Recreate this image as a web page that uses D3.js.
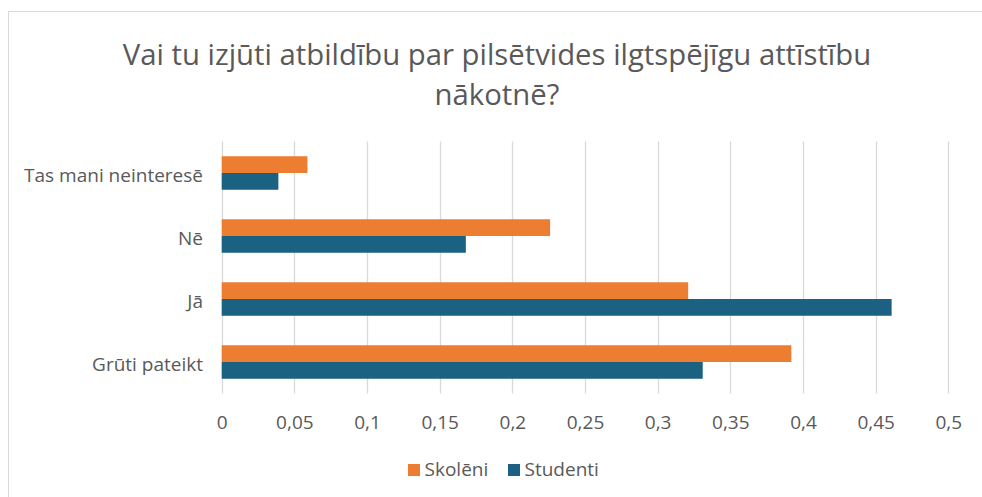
<!DOCTYPE html>
<html><head><meta charset="utf-8">
<script src="https://cdn.jsdelivr.net/npm/d3@7"></script>
<style>body{margin:0;background:#fff;} text{font-family:"Open Sans",sans-serif;}</style>
</head><body>
<svg id="c" width="982" height="497"></svg>
<script>
const categories = ["Grūti pateikt", "Jā", "Nē", "Tas mani neinteresē"];
const seriesNames = ["Skolēni", "Studenti"];
const skoleni = [0.392, 0.321, 0.226, 0.059];
const studenti = [0.331, 0.461, 0.168, 0.039];
const xTicks = [0, 0.05, 0.1, 0.15, 0.2, 0.25, 0.3, 0.35, 0.4, 0.45, 0.5];
const tickLabels = ["0", "0,05", "0,1", "0,15", "0,2", "0,25", "0,3", "0,35", "0,4", "0,45", "0,5"];
const titleLines = ["Vai tu izjūti atbildību par pilsētvides ilgtspējīgu attīstību", "nākotnē?"];

const colors = ["#ED7D31", "#1A6182"];
const textColor = "#595959";
const FONT = "'Open Sans',sans-serif";
const LABEL_SIZE = 19;
const svg = d3.select("#c");

svg.append("rect").attr("x", 8.5).attr("y", 11.5).attr("width", 990).attr("height", 500)
  .attr("fill", "#fff").attr("stroke", "#d9d9d9").attr("stroke-width", 1);

const x = d3.scaleLinear().domain([0, 0.5]).range([221.7, 948.3]);
const y = d3.scaleBand().domain(categories.slice().reverse()).range([141.5, 393.5])
  .paddingInner(0.468).paddingOuter(0.234);
const ySub = d3.scaleBand().domain(seriesNames).range([0, y.bandwidth()]);

// title
svg.append("g").selectAll("text").data(titleLines).join("text")
  .attr("x", 497).attr("y", (d, i) => 65 + i * 40)
  .attr("text-anchor", "middle").attr("font-size", 29.3).attr("fill", textColor)
  .text(d => d);

// grid
svg.append("g").selectAll("line").data(xTicks).join("line")
  .attr("x1", d => Math.round(x(d)) + 0.5).attr("x2", d => Math.round(x(d)) + 0.5)
  .attr("y1", 141.5).attr("y2", 393.5)
  .attr("stroke", "#d9d9d9").attr("stroke-width", 1.3);

// x axis labels
const xAxis = d3.axisBottom(x).tickValues(xTicks).tickSize(0).tickPadding(0)
  .tickFormat((d, i) => tickLabels[i]);
const gx = svg.append("g").attr("transform", "translate(0,415)").call(xAxis);
gx.select(".domain").remove();
gx.selectAll("text").attr("font-size", LABEL_SIZE).attr("fill", textColor).attr("font-family", FONT);

// y axis labels
const yAxis = d3.axisLeft(y).tickSize(0).tickPadding(0);
const gy = svg.append("g").attr("transform", "translate(203,0)").call(yAxis);
gy.select(".domain").remove();
gy.selectAll("text").attr("font-size", LABEL_SIZE).attr("fill", textColor).attr("font-family", FONT)
  .attr("dy", "0.45em");

// bars
const data = categories.map((c, i) => ({c, vals: [skoleni[i], studenti[i]]}));
const groups = svg.append("g").selectAll("g").data(data).join("g")
  .attr("transform", d => `translate(0,${y(d.c)})`);
groups.selectAll("rect").data(d => d.vals.map((v, j) => ({v, s: seriesNames[j], j})))
  .join("rect")
  .attr("x", x(0)).attr("y", d => ySub(d.s))
  .attr("width", d => x(d.v) - x(0)).attr("height", ySub.bandwidth())
  .attr("fill", d => colors[d.j]);

// legend
const legendX = [408, 508];
const lg = svg.append("g").selectAll("g").data(seriesNames).join("g")
  .attr("transform", (d, i) => `translate(${legendX[i]},464)`);
lg.append("rect").attr("width", 12).attr("height", 12).attr("fill", (d, i) => colors[i]);
lg.append("text").attr("x", 16.5).attr("y", 12).attr("font-size", LABEL_SIZE).attr("fill", textColor).text(d => d);
</script>
</body></html>
